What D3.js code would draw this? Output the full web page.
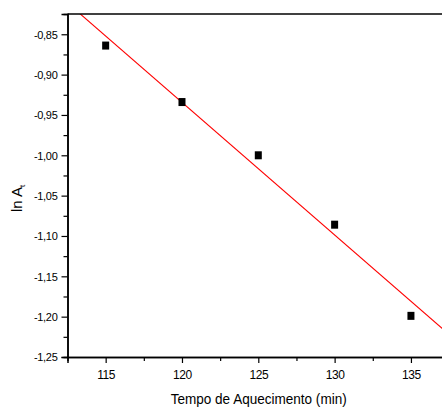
<!DOCTYPE html>
<html>
<head>
<meta charset="utf-8">
<script src="https://cdn.jsdelivr.net/npm/d3@7"></script>
<style>
  html, body { margin: 0; padding: 0; background: #fff; }
  svg { display: block; font-family: "Liberation Sans", Arial, sans-serif; }
</style>
</head>
<body>
<svg id="chart" width="442" height="407"></svg>
<script>
// Data
const tempo = [115, 120, 125, 130, 135];
const lnAt = [-0.864, -0.934, -1.000, -1.086, -1.199];
const xTicks = [115, 120, 125, 130, 135];
const xMinorTicks = [117.5, 122.5, 127.5, 132.5];
const yTicks = [-0.85, -0.90, -0.95, -1.00, -1.05, -1.10, -1.15, -1.20, -1.25];
const yMinorTicks = [-0.875, -0.925, -0.975, -1.025, -1.075, -1.125, -1.175, -1.225];
const xTitle = "Tempo de Aquecimento (min)";

const svg = d3.select("#chart");
const x = d3.scaleLinear().domain([112.5, 137.5]).range([67.5, 449.1]);
const y = d3.scaleLinear().domain([-1.25, -0.825]).range([357, 14.1]);

const fmt = d => d3.format(".2f")(d).replace(".", ",").replace("−", "-");

// Linear regression fit from data
const mx = d3.mean(tempo), my = d3.mean(lnAt);
const slope = d3.sum(tempo.map((t, i) => (t - mx) * (lnAt[i] - my))) / d3.sum(tempo.map(t => (t - mx) ** 2));
const icpt = my - slope * mx;

// clip region for plot
svg.append("clipPath").attr("id", "clip").append("rect")
  .attr("x", x(112.5)).attr("y", y(-0.825)).attr("width", x(137.5) - x(112.5)).attr("height", y(-1.25) - y(-0.825));

// fit line
const fx0 = 112.5, fx1 = 137.5;
svg.append("line")
  .attr("clip-path", "url(#clip)")
  .attr("x1", x(fx0)).attr("y1", y(icpt + slope * fx0))
  .attr("x2", x(fx1)).attr("y2", y(icpt + slope * fx1))
  .attr("stroke", "#ff0000").attr("stroke-width", 1.1);

// points
svg.append("g").selectAll("rect").data(tempo).join("rect")
  .attr("x", (d) => x(d) - 3.5)
  .attr("y", (d, i) => y(lnAt[i]) - 4)
  .attr("width", 7).attr("height", 8)
  .attr("fill", "#000");

// axes
const xAxis = d3.axisBottom(x).tickValues(xTicks).tickSize(6).tickFormat(d3.format("d"));
const xMinor = d3.axisBottom(x).tickValues(xMinorTicks).tickSize(4).tickFormat("");
const yAxis = d3.axisLeft(y).tickValues(yTicks).tickSize(6).tickFormat(fmt);
const yMinor = d3.axisLeft(y).tickValues(yMinorTicks).tickSize(4).tickFormat("");

function style(g) {
  g.selectAll("path.domain").attr("stroke", "#000").attr("stroke-width", 1.5);
  g.selectAll(".tick line").attr("stroke", "#000").attr("stroke-width", 1.2);
}

svg.append("g").attr("transform", `translate(0,${y(-1.25)})`).call(xMinor).call(style);
const gx = svg.append("g").attr("transform", `translate(0,${y(-1.25)})`).call(xAxis).call(style);
gx.selectAll(".tick text").attr("font-size", 12).attr("fill", "#000").attr("letter-spacing", -0.4)
  .attr("font-family", "Liberation Sans, Arial, sans-serif").attr("y", 13).attr("dy", "0.71em");

svg.append("g").attr("transform", `translate(${x(112.5)},0)`).call(yMinor).call(style);
const gy = svg.append("g").attr("transform", `translate(${x(112.5)},0)`).call(yAxis).call(style);
gy.selectAll(".tick text").attr("font-size", 11).attr("fill", "#000").attr("letter-spacing", -0.3)
  .attr("font-family", "Liberation Sans, Arial, sans-serif").attr("x", -10).attr("dy", "0.36em");

// top frame line
svg.append("line").attr("x1", x(112.5)).attr("x2", x(137.5)).attr("y1", y(-0.825)).attr("y2", y(-0.825))
  .attr("stroke", "#000").attr("stroke-width", 1.5);

// axis titles
svg.append("text").attr("x", 258.7).attr("y", 403.5).attr("text-anchor", "middle")
  .attr("font-size", 14.5).attr("textLength", 176).attr("lengthAdjust", "spacingAndGlyphs")
  .attr("fill", "#000").text(xTitle);

const yt = svg.append("text").attr("transform", "translate(22,212) rotate(-90)")
  .attr("font-size", 15).attr("fill", "#000");
yt.append("tspan").text("ln A");
yt.append("tspan").attr("font-size", 8).attr("dy", 3).text("t");
</script>
</body>
</html>
